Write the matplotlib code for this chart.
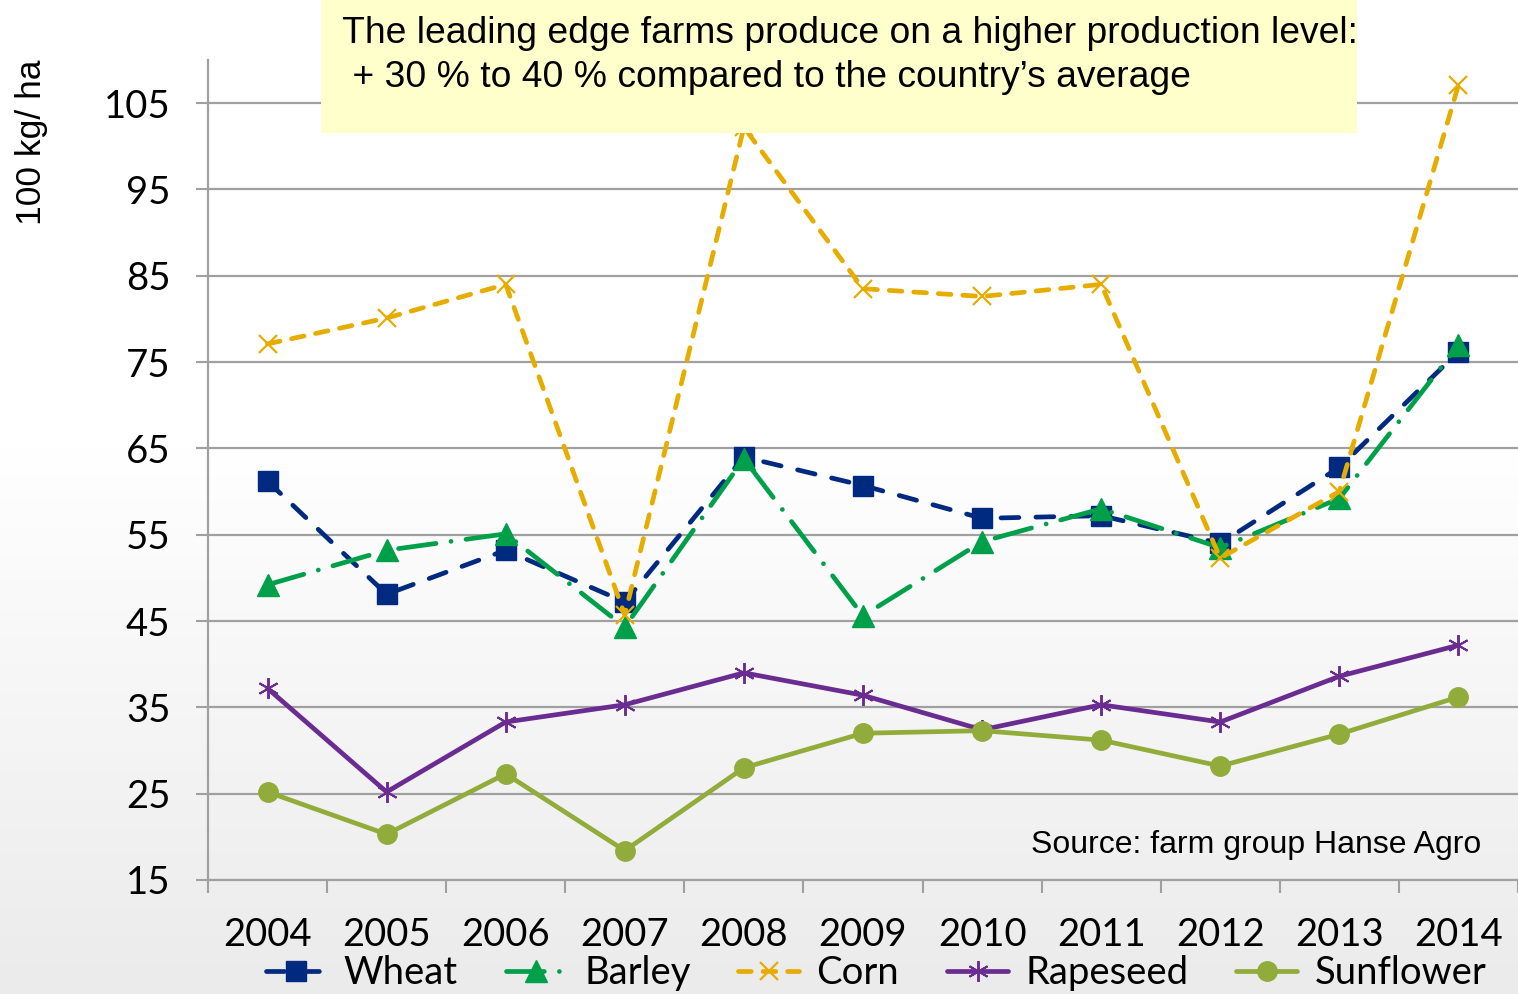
import matplotlib
matplotlib.use("Agg")
import matplotlib.pyplot as plt
from matplotlib.patches import Rectangle
from matplotlib.colors import LinearSegmentedColormap
import numpy as np

years = ['2004', '2005', '2006', '2007', '2008', '2009', '2010', '2011', '2012', '2013', '2014']
wheat = [61.2, 48.1, 53.2, 47.2, 64.0, 60.7, 56.9, 57.2, 54.0, 62.8, 76.2]
barley = [49.2, 53.2, 55.1, 44.3, 63.8, 45.6, 54.2, 58.0, 53.5, 59.2, 77.0]
corn = [77.1, 80.1, 84.0, 45.7, 102.2, 83.5, 82.6, 84.0, 52.3, 60.0, 107.1]
rapeseed = [37.2, 25.2, 33.3, 35.3, 39.0, 36.4, 32.4, 35.3, 33.3, 38.6, 42.2]
sunflower = [25.2, 20.3, 27.3, 18.4, 28.0, 32.0, 32.3, 31.2, 28.2, 31.9, 36.2]
yticks = [15, 25, 35, 45, 55, 65, 75, 85, 95, 105]

tick_font = ['Lato', 'DejaVu Sans']
text_font = 'Liberation Sans'

fig = plt.figure(figsize=(15.18, 9.94), dpi=100)

# light grey gradient in the background
bg = fig.add_axes([0, 0, 1, 1], zorder=-10)
grad = np.linspace(0, 1, 256).reshape(-1, 1)
cmap = LinearSegmentedColormap.from_list('bg', [(0, '#ffffff'), (0.45, '#ffffff'), (1, '#ebebeb')])
bg.imshow(grad, aspect='auto', cmap=cmap, extent=[0, 1, 1, 0])
bg.set_axis_off()

ax = fig.add_axes([0.137, 0.1147, 0.863, 0.825])
ax.set_facecolor('none')
x = np.arange(len(years))

ax.plot(x, wheat, color='#002A7F', lw=3.4, dashes=(3.8, 3.6), dash_capstyle='round',
        marker='s', ms=15, label='Wheat', zorder=3)
ax.plot(x, barley, color='#00A04B', lw=3.4, dashes=(8, 3.2, 0.01, 3.2), dash_capstyle='round',
        marker='^', ms=16, label='Barley', zorder=3)
ax.plot(x, corn, color='#E6AC00', lw=3.4, dashes=(2.7, 2.5), dash_capstyle='round',
        marker='x', ms=13, mew=1.6, label='Corn', zorder=3)
ax.plot(x, rapeseed, color='#6A2C91', lw=3.4, solid_capstyle='round',
        marker=(6, 2, 0), ms=15, mew=1.4, label='Rapeseed', zorder=3)
ax.plot(x, sunflower, color='#92AC3C', lw=3.4, solid_capstyle='round',
        marker='o', ms=14, label='Sunflower', zorder=3)

ax.set_xlim(-0.5, 10.5)
ax.set_ylim(15, 110)
ax.set_yticks(yticks)
ax.yaxis.grid(True, color='#A0A0A0', lw=1.6)
ax.set_axisbelow(True)

ax.set_xticks(np.arange(-0.5, 10.6, 1))
ax.set_xticklabels([])
ax.set_xticks(x, minor=True)
ax.set_xticklabels(years, minor=True, fontsize=27.5, fontfamily=tick_font)
ax.tick_params(axis='x', which='major', length=9, width=1.5, color='#A0A0A0')
ax.tick_params(axis='x', which='minor', length=0, pad=27)
ax.tick_params(axis='y', length=9, width=1.5, color='#A0A0A0', pad=18)
for lab in ax.get_yticklabels():
    lab.set_fontsize(27.5)
    lab.set_fontfamily(tick_font)

for s in ['top', 'right']:
    ax.spines[s].set_visible(False)
for s in ['left', 'bottom']:
    ax.spines[s].set_color('#A0A0A0')
    ax.spines[s].set_linewidth(1.6)

fig.text(0.021, 0.857, '100 kg/ ha', rotation=90, ha='center', va='center',
         fontsize=25.5, fontfamily=text_font)

# note box at the top
fig.patches.append(Rectangle((0.2115, 0.8662), 0.6825, 0.14, transform=fig.transFigure,
                             facecolor='#FFFFCC', edgecolor='none', zorder=5))
fig.text(0.2253, 0.966, 'The leading edge farms produce on a higher production level:',
         fontsize=26.8, fontfamily=text_font, va='center', zorder=6)
fig.text(0.2253, 0.922, ' + 30 % to 40 % compared to the country\u2019s average',
         fontsize=26.8, fontfamily=text_font, va='center', zorder=6)

ax.text(0.972, 0.043, 'Source: farm group Hanse Agro', transform=ax.transAxes,
        ha='right', va='center', fontsize=23, fontfamily=text_font)

fig.legend(loc='center', bbox_to_anchor=(0.577, 0.021), ncol=5, frameon=False,
           prop={'family': tick_font, 'size': 27.5}, handlelength=1.6,
           handletextpad=0.45, columnspacing=1.25, borderaxespad=0, borderpad=0)

fig.savefig('out.png', dpi=100)
